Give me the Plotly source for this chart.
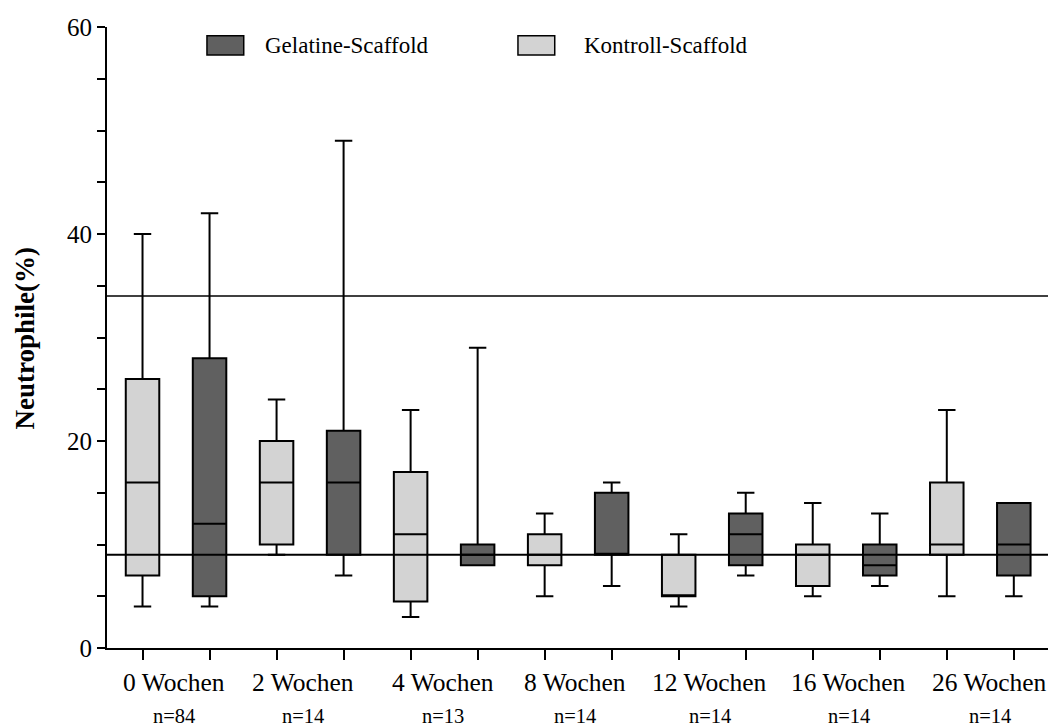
import plotly.graph_objects as go

# ---- data ----
weeks = ["0 Wochen", "2 Wochen", "4 Wochen", "8 Wochen", "12 Wochen", "16 Wochen", "26 Wochen"]
n_labels = ["n=84", "n=14", "n=13", "n=14", "n=14", "n=14", "n=14"]

kontroll_min = [4, 9, 3, 5, 4, 5, 5]
kontroll_q1 = [7, 10, 4.5, 8, 5, 6, 9]
kontroll_median = [16, 16, 11, 9, 5, 9, 10]
kontroll_q3 = [26, 20, 17, 11, 9, 10, 16]
kontroll_max = [40, 24, 23, 13, 11, 14, 23]

gelatine_min = [4, 7, 8, 6, 7, 6, 5]
gelatine_q1 = [5, 9, 8, 9, 8, 7, 7]
gelatine_median = [12, 16, 9, 9, 11, 8, 10]
gelatine_q3 = [28, 21, 10, 15, 13, 10, 14]
gelatine_max = [42, 49, 29, 16, 15, 13, 14]

reference_lines = [9, 34]

y_tick_vals = list(range(0, 61, 5))
y_tick_text = ["0", "", "", "", "20", "", "", "", "40", "", "", "", "60"]

# label center offsets (in box-position units) as measured
label_x = [0.475, 2.39, 4.48, 6.46, 8.46, 10.54, 12.64]

FONT = "Liberation Serif"
LIGHT = "#d3d3d3"
DARK = "#606060"

kontroll_x = [2 * i for i in range(len(weeks))]
gelatine_x = [2 * i + 1 for i in range(len(weeks))]

fig = go.Figure()
fig.add_trace(go.Box(
    name="Kontroll-Scaffold", x=kontroll_x,
    q1=kontroll_q1, median=kontroll_median, q3=kontroll_q3,
    lowerfence=kontroll_min, upperfence=kontroll_max,
    width=0.5, whiskerwidth=0.52, boxpoints=False,
    fillcolor=LIGHT, line=dict(color="black", width=2),
    showlegend=False, hoverinfo="skip",
))
fig.add_trace(go.Box(
    name="Gelatine-Scaffold", x=gelatine_x,
    q1=gelatine_q1, median=gelatine_median, q3=gelatine_q3,
    lowerfence=gelatine_min, upperfence=gelatine_max,
    width=0.5, whiskerwidth=0.52, boxpoints=False,
    fillcolor=DARK, line=dict(color="black", width=2),
    showlegend=False, hoverinfo="skip",
))

shapes = []
for v, w in zip(reference_lines, [2, 1.5]):
    shapes.append(dict(type="line", xref="paper", yref="y", x0=0, x1=1, y0=v, y1=v,
                       line=dict(color="black", width=w), layer="above"))

# manual legend
legend_items = [("Gelatine-Scaffold", DARK, 0.106, 0.1655), ("Kontroll-Scaffold", LIGHT, 0.4358, 0.5037)]
annotations = []
for name, col, sx, tx in legend_items:
    shapes.append(dict(type="rect", xref="paper", yref="paper", x0=sx, x1=sx + 0.039,
                       y0=0.955, y1=0.986, fillcolor=col, line=dict(color="black", width=1.5)))
    annotations.append(dict(xref="paper", yref="paper", x=tx, y=0.9705, text=name,
                            showarrow=False, xanchor="left", yanchor="middle",
                            font=dict(family=FONT, size=23, color="black")))

for lx, wk, nl in zip(label_x, weeks, n_labels):
    annotations.append(dict(xref="x", yref="paper", x=lx, y=-0.056, text=wk, showarrow=False,
                            xanchor="center", yanchor="middle",
                            font=dict(family=FONT, size=25.5, color="black")))
    annotations.append(dict(xref="x", yref="paper", x=lx, y=-0.110, text=nl, showarrow=False,
                            xanchor="center", yanchor="middle",
                            font=dict(family=FONT, size=20.5, color="black")))

annotations.append(dict(xref="paper", yref="paper", x=-0.087, y=0.5, text="<b>Neutrophile(%)</b>",
                        showarrow=False, textangle=-90, xanchor="center", yanchor="middle",
                        font=dict(family=FONT, size=27, color="black")))

fig.update_layout(
    width=1048, height=718,
    margin=dict(l=99, r=6, t=14, b=78),
    paper_bgcolor="white", plot_bgcolor="white",
    boxmode="overlay",
    shapes=shapes, annotations=annotations,
    font=dict(family=FONT, color="black"),
    xaxis=dict(range=[-0.53, 13.54], tickvals=list(range(14)), ticktext=[""] * 14,
               ticks="outside", ticklen=10, tickwidth=2, tickcolor="black",
               showline=True, linewidth=2, linecolor="black", showgrid=False, zeroline=False),
    yaxis=dict(range=[0, 60], tickvals=y_tick_vals, ticktext=y_tick_text,
               ticks="outside", ticklen=8, tickwidth=2, tickcolor="black",
               tickfont=dict(family=FONT, size=25, color="black"),
               showline=True, linewidth=2, linecolor="black", showgrid=False, zeroline=False),
)

fig.write_html("out.html")
